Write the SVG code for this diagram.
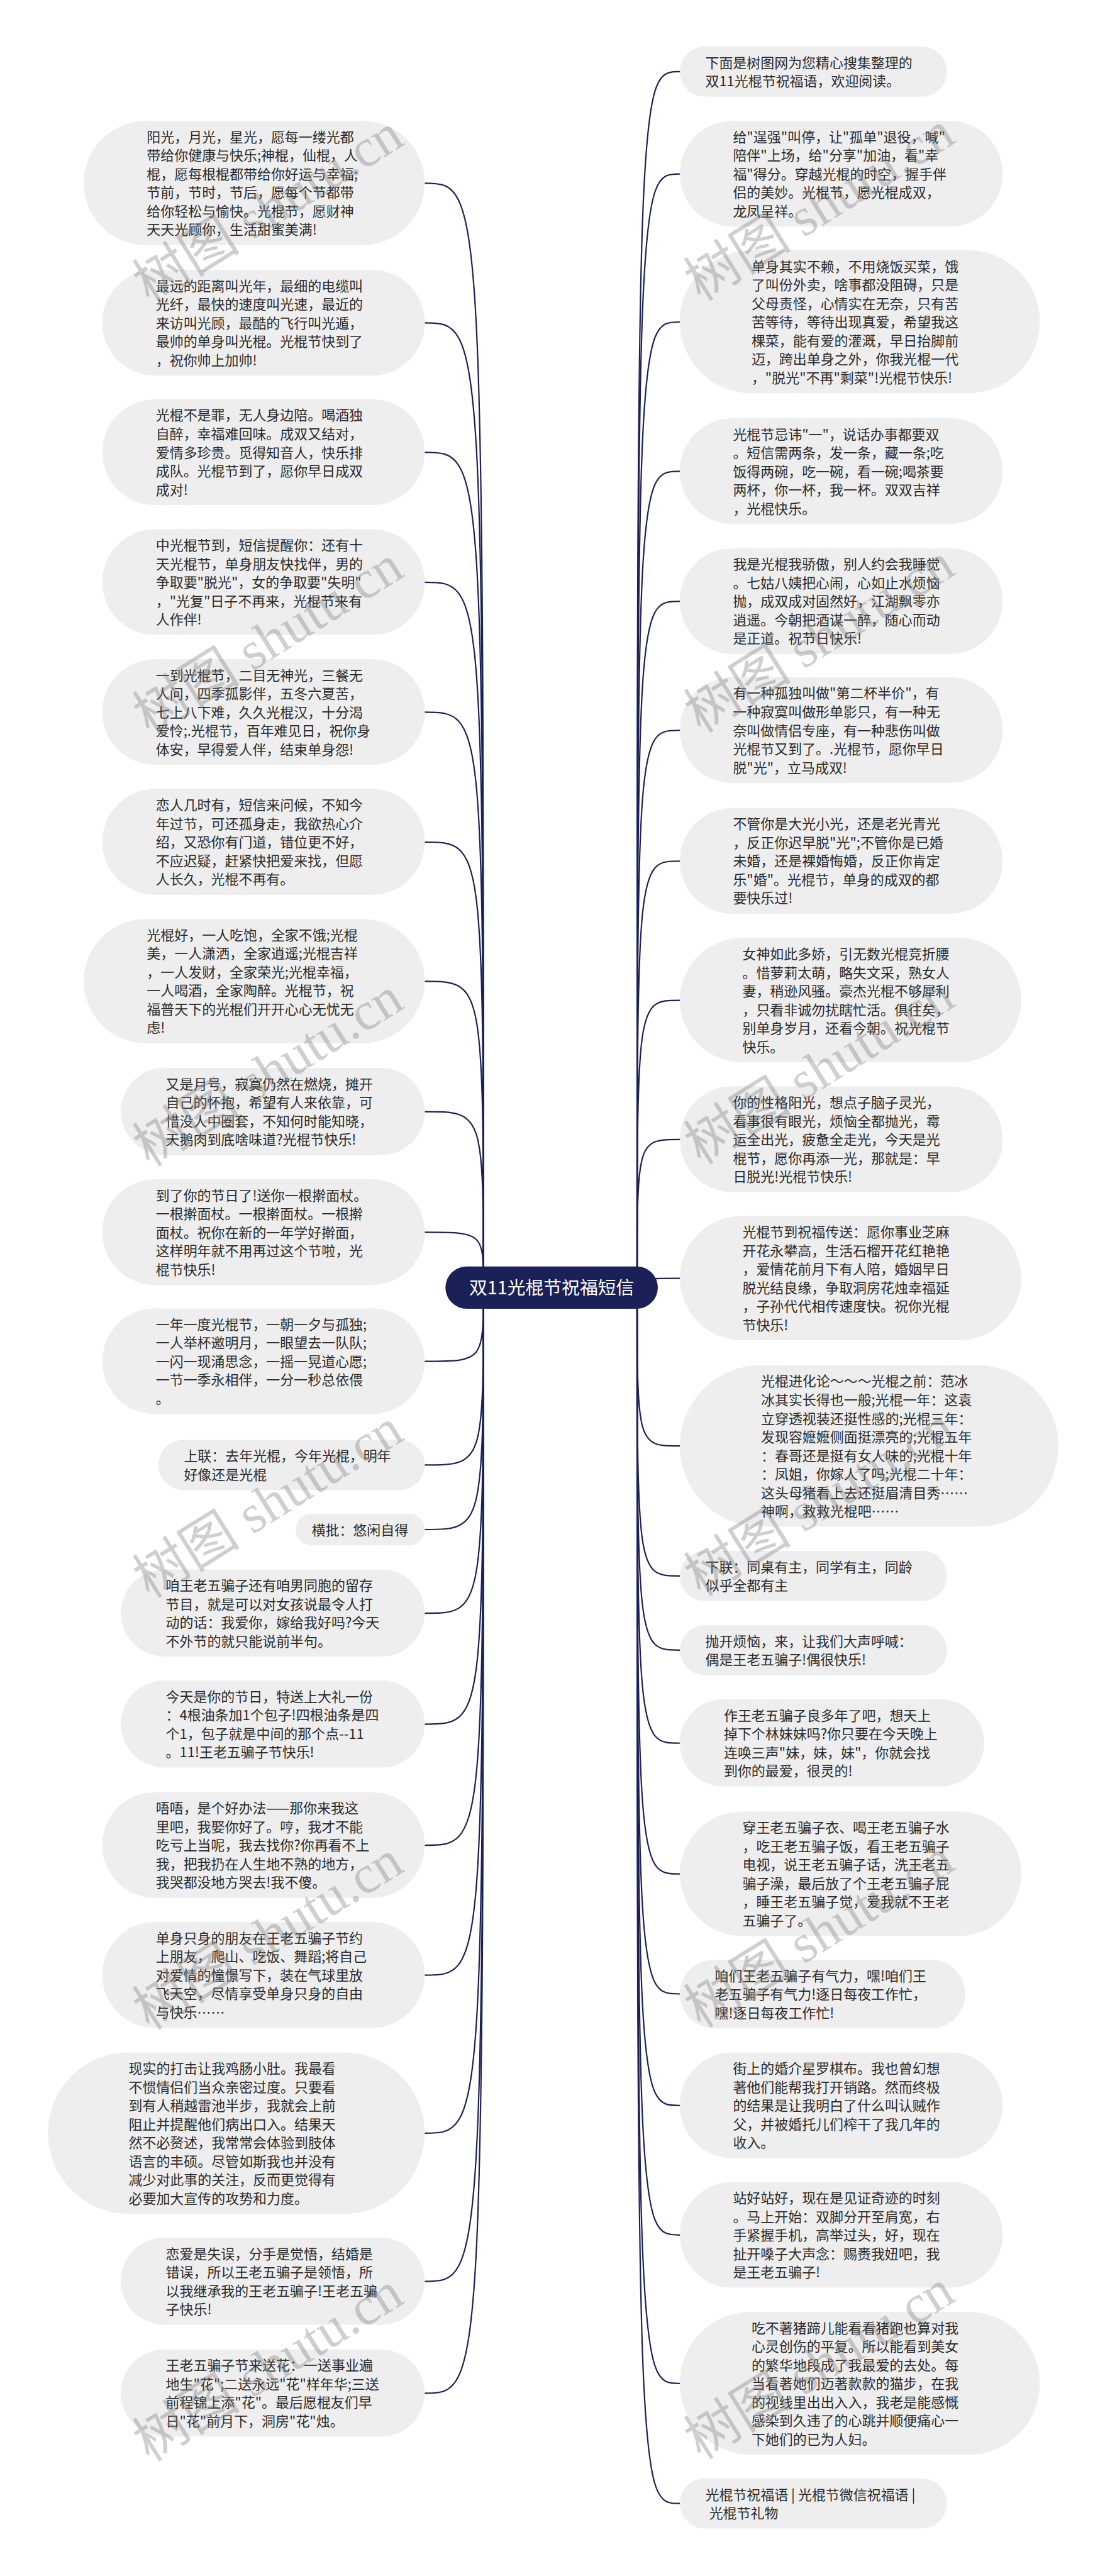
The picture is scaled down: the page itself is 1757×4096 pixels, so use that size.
<svg xmlns="http://www.w3.org/2000/svg" width="1757" height="4096" viewBox="0 0 1757 4096">
<style>
.n rect{fill:#eeeeee}
.t{font-family:"Noto Sans CJK SC","Noto Sans",sans-serif;font-size:32px;fill:#2b2b2b}
.c path{fill:none;stroke:#1b2157;stroke-width:3.2}
.w{font-family:"Liberation Serif","Noto Sans CJK SC",serif;font-size:125px;fill:#808080;fill-opacity:0.38}
.r text{font-family:"Noto Sans CJK SC","Noto Sans",sans-serif;font-size:42px;fill:#ffffff}
</style>
<rect width="1757" height="4096" fill="#ffffff"/>
<g transform="scale(0.686328)">
<g class="c" id="connectors">
<path d="M1120 2983 C1120 424.5 1120 424.5 984 424.5"/>
<path d="M1120 2983 C1120 748 1120 748 984 748"/>
<path d="M1120 2983 C1120 1048 1120 1048 984 1048"/>
<path d="M1120 2983 C1120 1349 1120 1349 984 1349"/>
<path d="M1120 2983 C1120 1650 1120 1650 984 1650"/>
<path d="M1120 2983 C1120 1951 1120 1951 984 1951"/>
<path d="M1120 2983 C1120 2273.5 1120 2273.5 984 2273.5"/>
<path d="M1120 2983 C1120 2575.5 1120 2575.5 984 2575.5"/>
<path d="M1120 2983 C1120 2855 1120 2855 984 2855"/>
<path d="M1120 2983 C1120 3154 1120 3154 984 3154"/>
<path d="M1120 2983 C1120 3394 1120 3394 984 3394"/>
<path d="M1120 2983 C1120 3543.5 1120 3543.5 984 3543.5"/>
<path d="M1120 2983 C1120 3737.5 1120 3737.5 984 3737.5"/>
<path d="M1120 2983 C1120 3994.5 1120 3994.5 984 3994.5"/>
<path d="M1120 2983 C1120 4275 1120 4275 984 4275"/>
<path d="M1120 2983 C1120 4576 1120 4576 984 4576"/>
<path d="M1120 2983 C1120 4942 1120 4942 984 4942"/>
<path d="M1120 2983 C1120 5285.5 1120 5285.5 984 5285.5"/>
<path d="M1120 2983 C1120 5544.5 1120 5544.5 984 5544.5"/>
<path d="M1476 2983 C1476 166 1476 166 1575 166"/>
<path d="M1476 2983 C1476 403 1476 403 1575 403"/>
<path d="M1476 2983 C1476 746 1476 746 1575 746"/>
<path d="M1476 2983 C1476 1092 1476 1092 1575 1092"/>
<path d="M1476 2983 C1476 1393 1476 1393 1575 1393"/>
<path d="M1476 2983 C1476 1692 1476 1692 1575 1692"/>
<path d="M1476 2983 C1476 1995 1476 1995 1575 1995"/>
<path d="M1476 2983 C1476 2317.5 1476 2317.5 1575 2317.5"/>
<path d="M1476 2983 C1476 2640 1476 2640 1575 2640"/>
<path d="M1476 2983 C1476 2961.5 1476 2961.5 1575 2961.5"/>
<path d="M1476 2983 C1476 3350 1476 3350 1575 3350"/>
<path d="M1476 2983 C1476 3651 1476 3651 1575 3651"/>
<path d="M1476 2983 C1476 3823 1476 3823 1575 3823"/>
<path d="M1476 2983 C1476 4038.5 1476 4038.5 1575 4038.5"/>
<path d="M1476 2983 C1476 4341.5 1476 4341.5 1575 4341.5"/>
<path d="M1476 2983 C1476 4619.5 1476 4619.5 1575 4619.5"/>
<path d="M1476 2983 C1476 4878 1476 4878 1575 4878"/>
<path d="M1476 2983 C1476 5178 1476 5178 1575 5178"/>
<path d="M1476 2983 C1476 5522 1476 5522 1575 5522"/>
<path d="M1476 2983 C1476 5800 1476 5800 1575 5800"/>
</g>
<g class="r" id="root">
<rect x="1032" y="2934" width="492" height="98" rx="49" fill="#1b2157"/>
<text x="1278" y="2998" text-anchor="middle">双11光棍节祝福短信</text>
</g>
<g class="n" id="L1"><rect x="194" y="280" width="790" height="288" rx="144"/>
<text class="t"><tspan x="340" y="329">阳光，月光，星光，愿每一缕光都</tspan><tspan x="340" y="372">带给你健康与快乐;神棍，仙棍，人</tspan><tspan x="340" y="415">棍，愿每根棍都带给你好运与幸福;</tspan><tspan x="340" y="458">节前，节时，节后，愿每个节都带</tspan><tspan x="340" y="501">给你轻松与愉快。光棍节，愿财神</tspan><tspan x="340" y="544">天天光顾你，生活甜蜜美满!</tspan></text></g>
<g class="n" id="L2"><rect x="237" y="625" width="747" height="245" rx="122"/>
<text class="t"><tspan x="361" y="674">最远的距离叫光年，最细的电缆叫</tspan><tspan x="361" y="717">光纤，最快的速度叫光速，最近的</tspan><tspan x="361" y="760">来访叫光顾，最酷的飞行叫光遁，</tspan><tspan x="361" y="803">最帅的单身叫光棍。光棍节快到了</tspan><tspan x="361" y="846">，祝你帅上加帅!</tspan></text></g>
<g class="n" id="L3"><rect x="237" y="925" width="747" height="245" rx="122"/>
<text class="t"><tspan x="361" y="974">光棍不是罪，无人身边陪。喝酒独</tspan><tspan x="361" y="1017">自醉，幸福难回味。成双又结对，</tspan><tspan x="361" y="1060">爱情多珍贵。觅得知音人，快乐排</tspan><tspan x="361" y="1103">成队。光棍节到了，愿你早日成双</tspan><tspan x="361" y="1146">成对!</tspan></text></g>
<g class="n" id="L4"><rect x="237" y="1226" width="747" height="245" rx="122"/>
<text class="t"><tspan x="361" y="1275">中光棍节到，短信提醒你：还有十</tspan><tspan x="361" y="1318">天光棍节，单身朋友快找伴，男的</tspan><tspan x="361" y="1361">争取要"脱光"，女的争取要"失明"</tspan><tspan x="361" y="1404">，"光复"日子不再来，光棍节来有</tspan><tspan x="361" y="1447">人作伴!</tspan></text></g>
<g class="n" id="L5"><rect x="237" y="1527" width="747" height="245" rx="122"/>
<text class="t"><tspan x="361" y="1576">一到光棍节，二目无神光，三餐无</tspan><tspan x="361" y="1619">人问，四季孤影伴，五冬六夏苦，</tspan><tspan x="361" y="1662">七上八下难，久久光棍汉，十分渴</tspan><tspan x="361" y="1705">爱怜;.光棍节，百年难见日，祝你身</tspan><tspan x="361" y="1748">体安，早得爱人伴，结束单身怨!</tspan></text></g>
<g class="n" id="L6"><rect x="237" y="1828" width="747" height="245" rx="122"/>
<text class="t"><tspan x="361" y="1877">恋人几时有，短信来问候，不知今</tspan><tspan x="361" y="1920">年过节，可还孤身走，我欲热心介</tspan><tspan x="361" y="1963">绍，又恐你有门道，错位更不好，</tspan><tspan x="361" y="2006">不应迟疑，赶紧快把爱来找，但愿</tspan><tspan x="361" y="2049">人长久，光棍不再有。</tspan></text></g>
<g class="n" id="L7"><rect x="194" y="2129" width="790" height="288" rx="144"/>
<text class="t"><tspan x="340" y="2178">光棍好，一人吃饱，全家不饿;光棍</tspan><tspan x="340" y="2221">美，一人潇洒，全家逍遥;光棍吉祥</tspan><tspan x="340" y="2264">，一人发财，全家荣光;光棍幸福，</tspan><tspan x="340" y="2307">一人喝酒，全家陶醉。光棍节，祝</tspan><tspan x="340" y="2350">福普天下的光棍们开开心心无忧无</tspan><tspan x="340" y="2393">虑!</tspan></text></g>
<g class="n" id="L8"><rect x="280" y="2474" width="704" height="202" rx="101"/>
<text class="t"><tspan x="384" y="2523">又是月号，寂寞仍然在燃烧，摊开</tspan><tspan x="384" y="2566">自己的怀抱，希望有人来依靠，可</tspan><tspan x="384" y="2609">惜没人中圈套，不知何时能知晓，</tspan><tspan x="384" y="2652">天鹅肉到底啥味道?光棍节快乐!</tspan></text></g>
<g class="n" id="L9"><rect x="237" y="2732" width="747" height="245" rx="122"/>
<text class="t"><tspan x="361" y="2781">到了你的节日了!送你一根擀面杖。</tspan><tspan x="361" y="2824">一根擀面杖。一根擀面杖。一根擀</tspan><tspan x="361" y="2867">面杖。祝你在新的一年学好擀面，</tspan><tspan x="361" y="2910">这样明年就不用再过这个节啦，光</tspan><tspan x="361" y="2953">棍节快乐!</tspan></text></g>
<g class="n" id="L10"><rect x="237" y="3031" width="747" height="245" rx="122"/>
<text class="t"><tspan x="361" y="3080">一年一度光棍节，一朝一夕与孤独;</tspan><tspan x="361" y="3123">一人举杯邀明月，一眼望去一队队;</tspan><tspan x="361" y="3166">一闪一现涌思念，一摇一晃道心愿;</tspan><tspan x="361" y="3209">一节一季永相伴，一分一秒总依偎</tspan><tspan x="361" y="3252">。</tspan></text></g>
<g class="n" id="L11"><rect x="367" y="3336" width="617" height="116" rx="58"/>
<text class="t"><tspan x="426" y="3385">上联：去年光棍，今年光棍，明年</tspan><tspan x="426" y="3428">好像还是光棍</tspan></text></g>
<g class="n" id="L12"><rect x="685" y="3507" width="299" height="73" rx="36.5"/>
<text class="t"><tspan x="722" y="3556">横批：悠闲自得</tspan></text></g>
<g class="n" id="L13"><rect x="280" y="3636" width="704" height="202" rx="101"/>
<text class="t"><tspan x="384" y="3685">咱王老五骗子还有咱男同胞的留存</tspan><tspan x="384" y="3728">节目，就是可以对女孩说最令人打</tspan><tspan x="384" y="3771">动的话：我爱你，嫁给我好吗?今天</tspan><tspan x="384" y="3814">不外节的就只能说前半句。</tspan></text></g>
<g class="n" id="L14"><rect x="280" y="3893" width="704" height="202" rx="101"/>
<text class="t"><tspan x="384" y="3942">今天是你的节日，特送上大礼一份</tspan><tspan x="384" y="3985">：4根油条加1个包子!四根油条是四</tspan><tspan x="384" y="4028">个1，包子就是中间的那个点--11</tspan><tspan x="384" y="4071">。11!王老五骗子节快乐!</tspan></text></g>
<g class="n" id="L15"><rect x="237" y="4152" width="747" height="245" rx="122"/>
<text class="t"><tspan x="361" y="4201">唔唔，是个好办法——那你来我这</tspan><tspan x="361" y="4244">里吧，我娶你好了。哼，我才不能</tspan><tspan x="361" y="4287">吃亏上当呢，我去找你?你再看不上</tspan><tspan x="361" y="4330">我，把我扔在人生地不熟的地方，</tspan><tspan x="361" y="4373">我哭都没地方哭去!我不傻。</tspan></text></g>
<g class="n" id="L16"><rect x="237" y="4453" width="747" height="245" rx="122"/>
<text class="t"><tspan x="361" y="4502">单身只身的朋友在王老五骗子节约</tspan><tspan x="361" y="4545">上朋友，爬山、吃饭、舞蹈;将自己</tspan><tspan x="361" y="4588">对爱情的憧憬写下，装在气球里放</tspan><tspan x="361" y="4631">飞天空，尽情享受单身只身的自由</tspan><tspan x="361" y="4674">与快乐……</tspan></text></g>
<g class="n" id="L17"><rect x="111" y="4755" width="873" height="374" rx="187"/>
<text class="t"><tspan x="298" y="4804">现实的打击让我鸡肠小肚。我最看</tspan><tspan x="298" y="4847">不惯情侣们当众亲密过度。只要看</tspan><tspan x="298" y="4890">到有人稍越雷池半步，我就会上前</tspan><tspan x="298" y="4933">阻止并提醒他们病出口入。结果天</tspan><tspan x="298" y="4976">然不必赘述，我常常会体验到肢体</tspan><tspan x="298" y="5019">语言的丰硕。尽管如斯我也并没有</tspan><tspan x="298" y="5062">减少对此事的关注，反而更觉得有</tspan><tspan x="298" y="5105">必要加大宣传的攻势和力度。</tspan></text></g>
<g class="n" id="L18"><rect x="280" y="5184" width="704" height="202" rx="101"/>
<text class="t"><tspan x="384" y="5233">恋爱是失误，分手是觉悟，结婚是</tspan><tspan x="384" y="5276">错误，所以王老五骗子是领悟，所</tspan><tspan x="384" y="5319">以我继承我的王老五骗子!王老五骗</tspan><tspan x="384" y="5362">子快乐!</tspan></text></g>
<g class="n" id="L19"><rect x="280" y="5443" width="704" height="202" rx="101"/>
<text class="t"><tspan x="384" y="5492">王老五骗子节来送花：一送事业遍</tspan><tspan x="384" y="5535">地生"花";二送永远"花"样年华;三送</tspan><tspan x="384" y="5578">前程锦上添"花"。最后愿棍友们早</tspan><tspan x="384" y="5621">日"花"前月下，洞房"花"烛。</tspan></text></g>
<g class="n" id="R1"><rect x="1575" y="108" width="619" height="116" rx="58"/>
<text class="t"><tspan x="1634" y="157">下面是树图网为您精心搜集整理的</tspan><tspan x="1634" y="200">双11光棍节祝福语，欢迎阅读。</tspan></text></g>
<g class="n" id="R2"><rect x="1575" y="280" width="748" height="245" rx="122"/>
<text class="t"><tspan x="1698" y="329">给"逞强"叫停，让"孤单"退役，喊"</tspan><tspan x="1698" y="372">陪伴"上场，给"分享"加油，看"幸</tspan><tspan x="1698" y="415">福"得分。穿越光棍的时空，握手伴</tspan><tspan x="1698" y="458">侣的美妙。光棍节，愿光棍成双，</tspan><tspan x="1698" y="501">龙凤呈祥。</tspan></text></g>
<g class="n" id="R3"><rect x="1575" y="580" width="834" height="331" rx="165"/>
<text class="t"><tspan x="1741" y="629">单身其实不赖，不用烧饭买菜，饿</tspan><tspan x="1741" y="672">了叫份外卖，啥事都没阻碍，只是</tspan><tspan x="1741" y="715">父母责怪，心情实在无奈，只有苦</tspan><tspan x="1741" y="758">苦等待，等待出现真爱，希望我这</tspan><tspan x="1741" y="801">棵菜，能有爱的灌溉，早日抬脚前</tspan><tspan x="1741" y="844">迈，跨出单身之外，你我光棍一代</tspan><tspan x="1741" y="887">，"脱光"不再"剩菜"!光棍节快乐!</tspan></text></g>
<g class="n" id="R4"><rect x="1575" y="969" width="748" height="245" rx="122"/>
<text class="t"><tspan x="1698" y="1018">光棍节忌讳"一"，说话办事都要双</tspan><tspan x="1698" y="1061">。短信需两条，发一条，藏一条;吃</tspan><tspan x="1698" y="1104">饭得两碗，吃一碗，看一碗;喝茶要</tspan><tspan x="1698" y="1147">两杯，你一杯，我一杯。双双吉祥</tspan><tspan x="1698" y="1190">，光棍快乐。</tspan></text></g>
<g class="n" id="R5"><rect x="1575" y="1270" width="748" height="245" rx="122"/>
<text class="t"><tspan x="1698" y="1319">我是光棍我骄傲，别人约会我睡觉</tspan><tspan x="1698" y="1362">。七姑八姨把心闹，心如止水烦恼</tspan><tspan x="1698" y="1405">抛，成双成对固然好，江湖飘零亦</tspan><tspan x="1698" y="1448">逍遥。今朝把酒谋一醉，随心而动</tspan><tspan x="1698" y="1491">是正道。祝节日快乐!</tspan></text></g>
<g class="n" id="R6"><rect x="1575" y="1569" width="748" height="245" rx="122"/>
<text class="t"><tspan x="1698" y="1618">有一种孤独叫做"第二杯半价"，有</tspan><tspan x="1698" y="1661">一种寂寞叫做形单影只，有一种无</tspan><tspan x="1698" y="1704">奈叫做情侣专座，有一种悲伤叫做</tspan><tspan x="1698" y="1747">光棍节又到了。.光棍节，愿你早日</tspan><tspan x="1698" y="1790">脱"光"，立马成双!</tspan></text></g>
<g class="n" id="R7"><rect x="1575" y="1872" width="748" height="245" rx="122"/>
<text class="t"><tspan x="1698" y="1921">不管你是大光小光，还是老光青光</tspan><tspan x="1698" y="1964">，反正你迟早脱"光";不管你是已婚</tspan><tspan x="1698" y="2007">未婚，还是裸婚悔婚，反正你肯定</tspan><tspan x="1698" y="2050">乐"婚"。光棍节，单身的成双的都</tspan><tspan x="1698" y="2093">要快乐过!</tspan></text></g>
<g class="n" id="R8"><rect x="1575" y="2173" width="791" height="288" rx="144"/>
<text class="t"><tspan x="1720" y="2222">女神如此多娇，引无数光棍竞折腰</tspan><tspan x="1720" y="2265">。惜萝莉太萌，略失文采，熟女人</tspan><tspan x="1720" y="2308">妻，稍逊风骚。豪杰光棍不够犀利</tspan><tspan x="1720" y="2351">，只看非诚勿扰瞎忙活。俱往矣，</tspan><tspan x="1720" y="2394">别单身岁月，还看今朝。祝光棍节</tspan><tspan x="1720" y="2437">快乐。</tspan></text></g>
<g class="n" id="R9"><rect x="1575" y="2517" width="748" height="245" rx="122"/>
<text class="t"><tspan x="1698" y="2566">你的性格阳光，想点子脑子灵光，</tspan><tspan x="1698" y="2609">看事很有眼光，烦恼全都抛光，霉</tspan><tspan x="1698" y="2652">运全出光，疲惫全走光，今天是光</tspan><tspan x="1698" y="2695">棍节，愿你再添一光，那就是：早</tspan><tspan x="1698" y="2738">日脱光!光棍节快乐!</tspan></text></g>
<g class="n" id="R10"><rect x="1575" y="2817" width="791" height="288" rx="144"/>
<text class="t"><tspan x="1720" y="2866">光棍节到祝福传送：愿你事业芝麻</tspan><tspan x="1720" y="2909">开花永攀高，生活石榴开花红艳艳</tspan><tspan x="1720" y="2952">，爱情花前月下有人陪，婚姻早日</tspan><tspan x="1720" y="2995">脱光结良缘，争取洞房花烛幸福延</tspan><tspan x="1720" y="3038">，子孙代代相传速度快。祝你光棍</tspan><tspan x="1720" y="3081">节快乐!</tspan></text></g>
<g class="n" id="R11"><rect x="1575" y="3163" width="877" height="374" rx="187"/>
<text class="t"><tspan x="1763" y="3212">光棍进化论～～～光棍之前：范冰</tspan><tspan x="1763" y="3255">冰其实长得也一般;光棍一年：这袁</tspan><tspan x="1763" y="3298">立穿透视装还挺性感的;光棍三年：</tspan><tspan x="1763" y="3341">发现容嬷嬷侧面挺漂亮的;光棍五年</tspan><tspan x="1763" y="3384">：春哥还是挺有女人味的;光棍十年</tspan><tspan x="1763" y="3427">：凤姐，你嫁人了吗;光棍二十年：</tspan><tspan x="1763" y="3470">这头母猪看上去还挺眉清目秀……</tspan><tspan x="1763" y="3513">神啊，救救光棍吧……</tspan></text></g>
<g class="n" id="R12"><rect x="1575" y="3593" width="619" height="116" rx="58"/>
<text class="t"><tspan x="1634" y="3642">下联：同桌有主，同学有主，同龄</tspan><tspan x="1634" y="3685">似乎全都有主</tspan></text></g>
<g class="n" id="R13"><rect x="1575" y="3765" width="619" height="116" rx="58"/>
<text class="t"><tspan x="1634" y="3814">抛开烦恼，来，让我们大声呼喊：</tspan><tspan x="1634" y="3857">偶是王老五骗子!偶很快乐!</tspan></text></g>
<g class="n" id="R14"><rect x="1575" y="3937" width="705" height="202" rx="101"/>
<text class="t"><tspan x="1677" y="3986">作王老五骗子良多年了吧，想天上</tspan><tspan x="1677" y="4029">掉下个林妹妹吗?你只要在今天晚上</tspan><tspan x="1677" y="4072">连唤三声"妹，妹，妹"，你就会找</tspan><tspan x="1677" y="4115">到你的最爱，很灵的!</tspan></text></g>
<g class="n" id="R15"><rect x="1575" y="4197" width="791" height="288" rx="144"/>
<text class="t"><tspan x="1720" y="4246">穿王老五骗子衣、喝王老五骗子水</tspan><tspan x="1720" y="4289">，吃王老五骗子饭，看王老五骗子</tspan><tspan x="1720" y="4332">电视，说王老五骗子话，洗王老五</tspan><tspan x="1720" y="4375">骗子澡，最后放了个王老五骗子屁</tspan><tspan x="1720" y="4418">，睡王老五骗子觉，爱我就不王老</tspan><tspan x="1720" y="4461">五骗子了。</tspan></text></g>
<g class="n" id="R16"><rect x="1575" y="4540" width="661" height="159" rx="79.5"/>
<text class="t"><tspan x="1656" y="4589">咱们王老五骗子有气力，嘿!咱们王</tspan><tspan x="1656" y="4632">老五骗子有气力!逐日每夜工作忙，</tspan><tspan x="1656" y="4675">嘿!逐日每夜工作忙!</tspan></text></g>
<g class="n" id="R17"><rect x="1575" y="4755" width="748" height="245" rx="122"/>
<text class="t"><tspan x="1698" y="4804">街上的婚介星罗棋布。我也曾幻想</tspan><tspan x="1698" y="4847">著他们能帮我打开销路。然而终极</tspan><tspan x="1698" y="4890">的结果是让我明白了什么叫认贼作</tspan><tspan x="1698" y="4933">父，并被婚托儿们榨干了我几年的</tspan><tspan x="1698" y="4976">收入。</tspan></text></g>
<g class="n" id="R18"><rect x="1575" y="5055" width="748" height="245" rx="122"/>
<text class="t"><tspan x="1698" y="5104">站好站好，现在是见证奇迹的时刻</tspan><tspan x="1698" y="5147">。马上开始：双脚分开至肩宽，右</tspan><tspan x="1698" y="5190">手紧握手机，高举过头，好，现在</tspan><tspan x="1698" y="5233">扯开嗓子大声念：赐赉我妞吧，我</tspan><tspan x="1698" y="5276">是王老五骗子!</tspan></text></g>
<g class="n" id="R19"><rect x="1575" y="5356" width="834" height="331" rx="165"/>
<text class="t"><tspan x="1741" y="5405">吃不著猪蹄儿能看看猪跑也算对我</tspan><tspan x="1741" y="5448">心灵创伤的平复。所以能看到美女</tspan><tspan x="1741" y="5491">的繁华地段成了我最爱的去处。每</tspan><tspan x="1741" y="5534">当看著她们迈著款款的猫步，在我</tspan><tspan x="1741" y="5577">的视线里出出入入，我老是能感慨</tspan><tspan x="1741" y="5620">感染到久违了的心跳并顺便痛心一</tspan><tspan x="1741" y="5663">下她们的已为人妇。</tspan></text></g>
<g class="n" id="R20"><rect x="1575" y="5742" width="619" height="116" rx="58"/>
<text class="t"><tspan x="1634" y="5791">光棍节祝福语 | 光棍节微信祝福语 |</tspan><tspan x="1643" y="5834">光棍节礼物</tspan></text></g>
<g id="watermarks">
<text class="w" x="346" y="705" transform="rotate(-32 346 705)">树图 shutu.cn</text>
<text class="w" x="346" y="1705" transform="rotate(-32 346 1705)">树图 shutu.cn</text>
<text class="w" x="346" y="2705" transform="rotate(-32 346 2705)">树图 shutu.cn</text>
<text class="w" x="346" y="3705" transform="rotate(-32 346 3705)">树图 shutu.cn</text>
<text class="w" x="346" y="4705" transform="rotate(-32 346 4705)">树图 shutu.cn</text>
<text class="w" x="346" y="5705" transform="rotate(-32 346 5705)">树图 shutu.cn</text>
<text class="w" x="1623" y="700" transform="rotate(-32 1623 700)">树图 shutu.cn</text>
<text class="w" x="1623" y="1700" transform="rotate(-32 1623 1700)">树图 shutu.cn</text>
<text class="w" x="1623" y="2700" transform="rotate(-32 1623 2700)">树图 shutu.cn</text>
<text class="w" x="1623" y="3700" transform="rotate(-32 1623 3700)">树图 shutu.cn</text>
<text class="w" x="1623" y="4700" transform="rotate(-32 1623 4700)">树图 shutu.cn</text>
<text class="w" x="1623" y="5700" transform="rotate(-32 1623 5700)">树图 shutu.cn</text>
</g>
</g>
</svg>
